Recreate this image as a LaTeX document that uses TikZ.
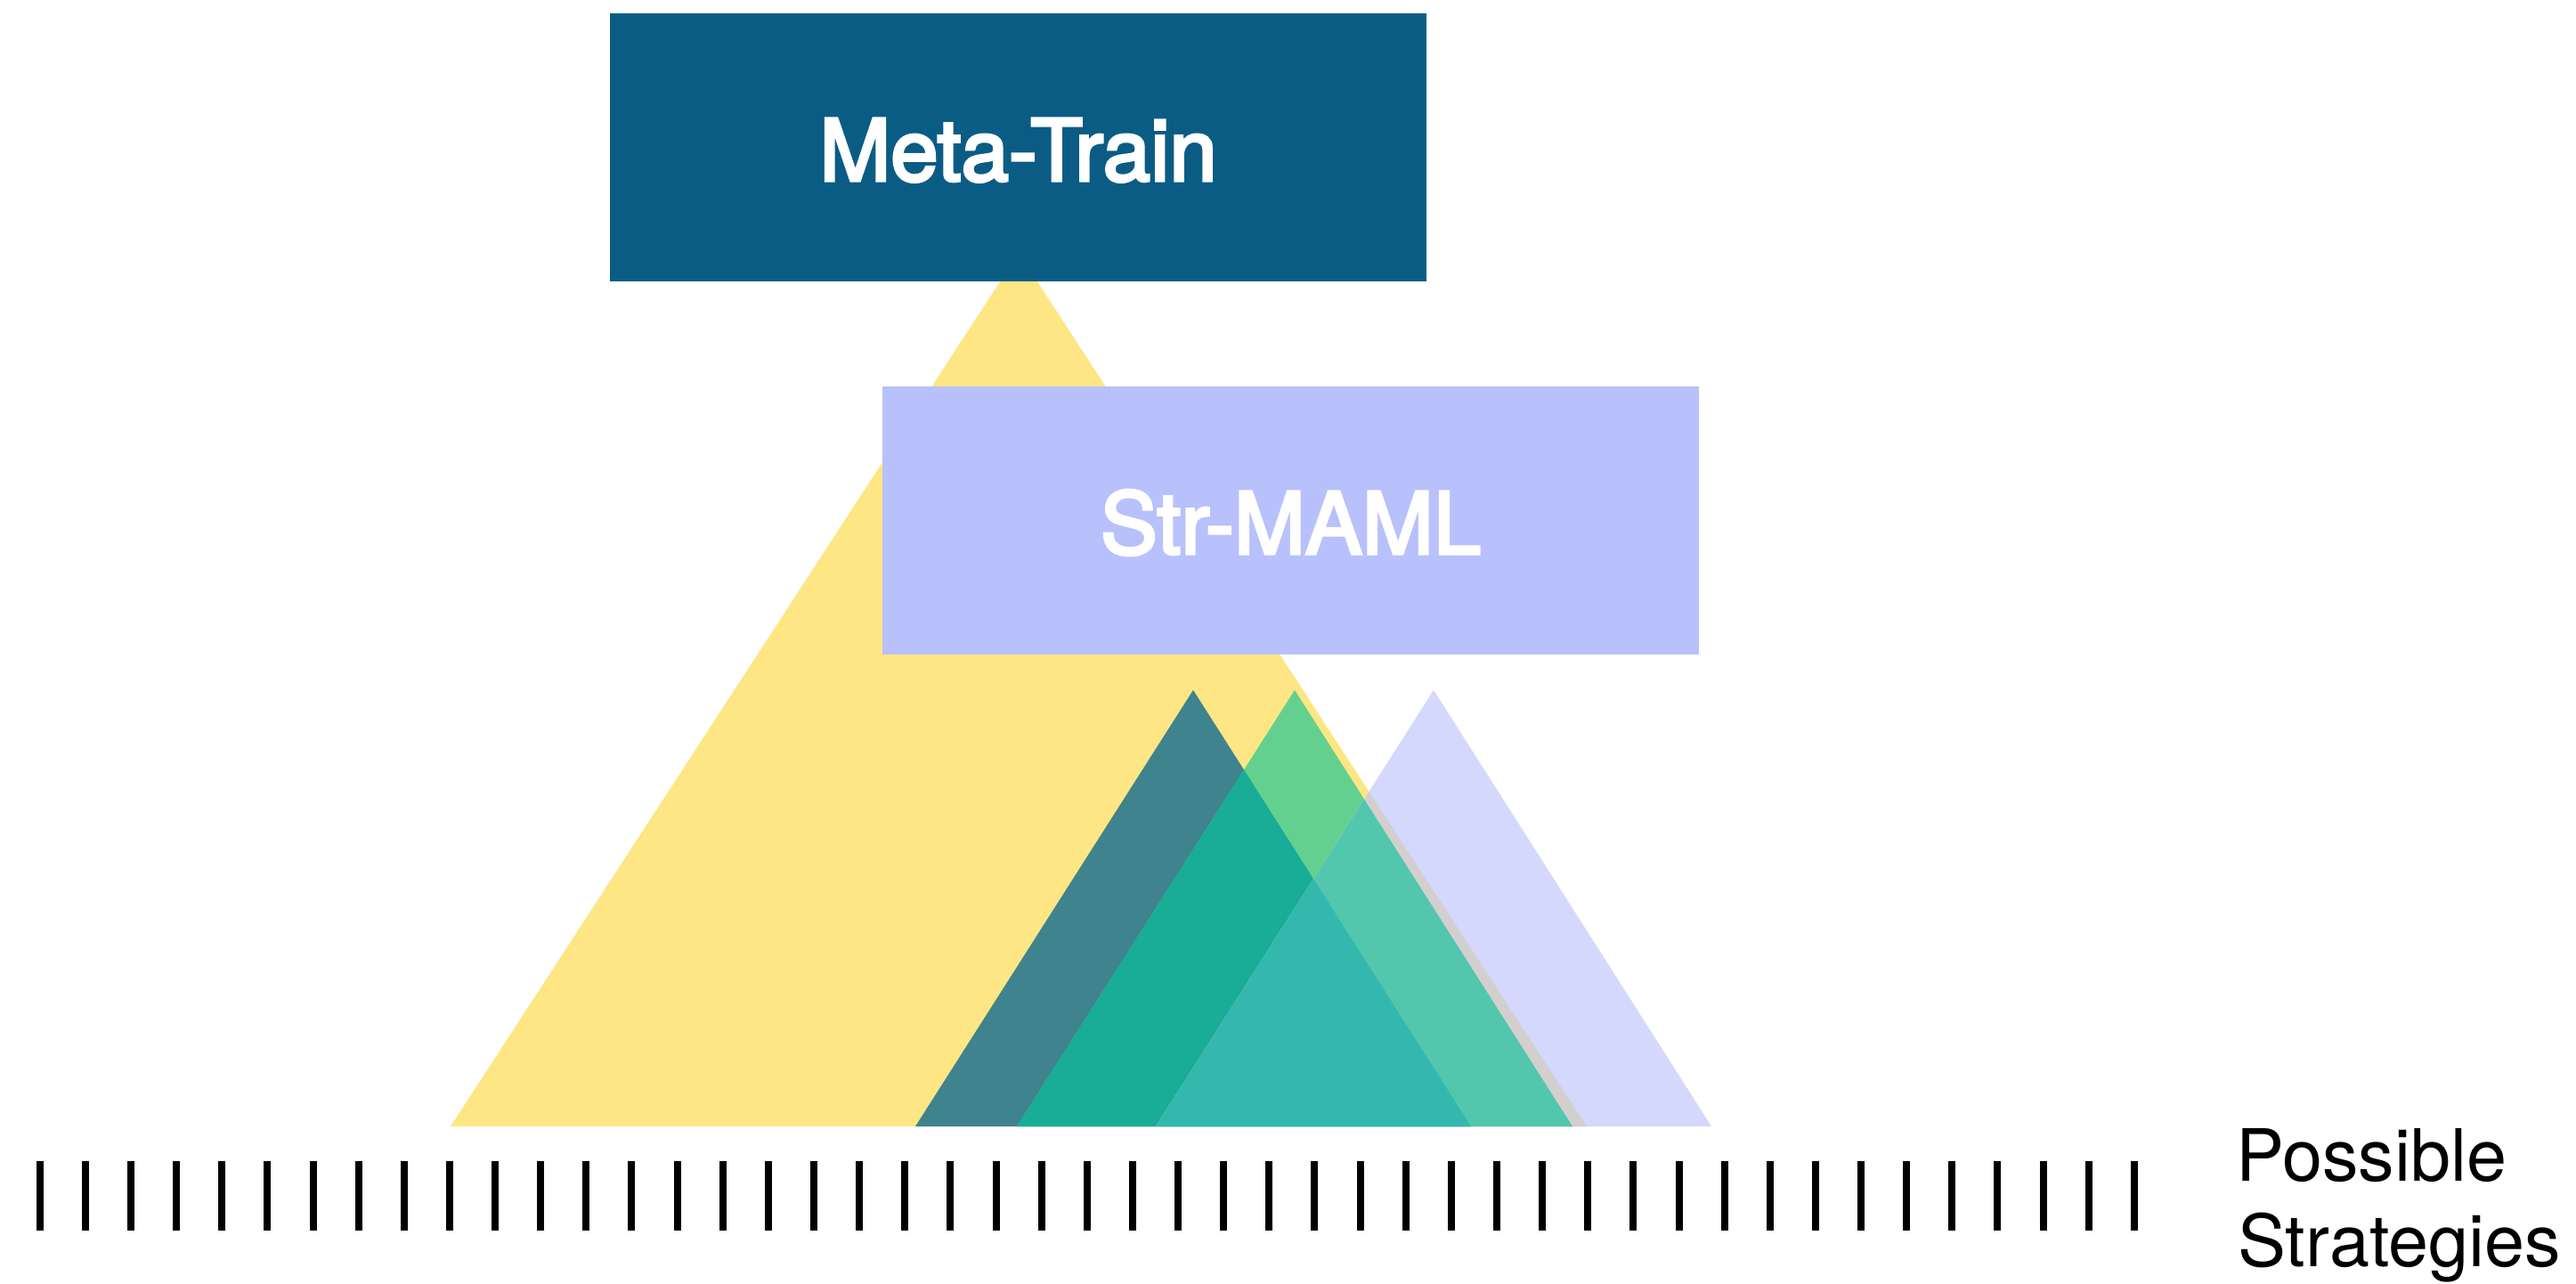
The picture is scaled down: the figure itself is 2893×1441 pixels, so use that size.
\documentclass[tikz,border=0pt]{standalone}
\usepackage{fontspec}
\setmainfont{TeX Gyre Heros}
\newfontfamily\stagefont{TeX Gyre Heros}[FakeBold=3.5]
\definecolor{metablue}{HTML}{0B5C85}
\definecolor{strlav}{HTML}{B8C1FC}
\definecolor{bigyellow}{HTML}{FDE683}
\definecolor{triA}{HTML}{3E838D}
\definecolor{triB}{HTML}{64D08F}
\definecolor{triAB}{HTML}{19AC96}
\definecolor{triC}{HTML}{D4D8FC}
\definecolor{triCY}{HTML}{D3CFCF}
\definecolor{triBC}{HTML}{52C7AD}
\definecolor{triABC}{HTML}{34B8AD}
\tikzset{
  stagebox/.style={rectangle, inner sep=0pt, minimum width=917pt, minimum height=301pt,
    text height=75pt, text depth=0pt, text=white, font=\stagefont\fontsize{96}{115}\selectfont},
  axislabel/.style={anchor=base west, inner sep=0pt, text=black, font=\fontsize{81}{96}\selectfont},
  tick/.style={line width=8pt, black}
}
\begin{document}
\begin{tikzpicture}[x=1pt,y=-1pt]
\useasboundingbox (0,0) rectangle (2893,1441);
% triangle outlines
\def\Ypath{(506,1265) -- (1144,284) -- (1782,1265) -- cycle}
\def\Apath{(1028,1265) -- (1340,775) -- (1652,1265) -- cycle}
\def\Bpath{(1142,1265) -- (1454,775) -- (1766,1265) -- cycle}
\def\Cpath{(1298,1265) -- (1610,775) -- (1922,1265) -- cycle}
% large search space
\fill[bigyellow] \Ypath;
% overlapping strategy triangles
\fill[triA] \Apath;
\fill[triB] \Bpath;
\begin{scope}\clip \Apath; \fill[triAB] \Bpath; \end{scope}
\fill[triC] \Cpath;
\begin{scope}\clip \Cpath; \fill[triCY] \Ypath; \end{scope}
\begin{scope}\clip \Cpath; \fill[triBC] \Bpath; \end{scope}
\begin{scope}\clip \Cpath; \clip \Bpath; \fill[triABC] \Apath; \end{scope}
% stage boxes
\node[stagebox, fill=metablue] (meta) at (1143.5,165.5) {Meta-Train};
\node[stagebox, fill=strlav] (strmaml) at (1449.5,584.5) {Str-MAML};
% strategy axis
\foreach \i in {0,...,46} {
  \draw[tick] ({44.8+51.13*\i},1304) -- ({44.8+51.13*\i},1382);
}
\node[axislabel] (ps1) at (2511,1326) {Possible};
\node[axislabel] (ps2) at (2513,1422) {Strategies};
\end{tikzpicture}
\end{document}
